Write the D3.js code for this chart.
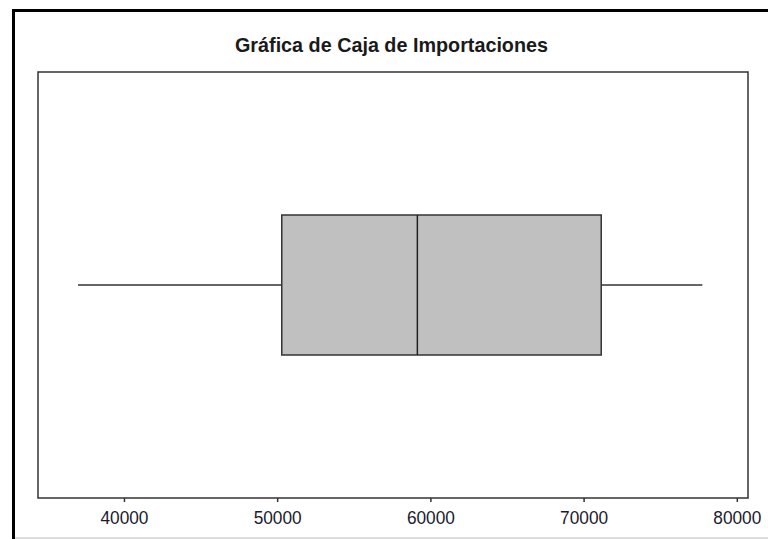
<!DOCTYPE html>
<html><head><meta charset="utf-8">
<script src="https://cdn.jsdelivr.net/npm/d3@7"></script>
<style>body{margin:0;background:#fff}svg{display:block}</style>
</head><body>
<svg id="c" width="768" height="539"></svg>
<script>
const title = "Gráfica de Caja de Importaciones";
const statNames = ["min", "q1", "median", "q3", "max"];
const statValues = [37000, 50300, 59150, 71150, 77750];
const tickValues = [40000, 50000, 60000, 70000, 80000];
const domainX = [34390, 80730];

const svg = d3.select("#c");
const plot = {left: 38, top: 72, right: 748, bottom: 498};
const x = d3.scaleLinear().domain(domainX).range([plot.left, plot.right]);
const s = {}; statNames.forEach((n, i) => s[n] = statValues[i]);
const cy = (plot.top + plot.bottom) / 2;
const boxH = 140;
const font = "Liberation Sans, Arial, sans-serif";

// outer frame
svg.append("line").attr("x1", 13.5).attr("x2", 13.5).attr("y1", 9).attr("y2", 539).attr("stroke", "#000").attr("stroke-width", 3);
svg.append("line").attr("x1", 12).attr("x2", 768).attr("y1", 10.5).attr("y2", 10.5).attr("stroke", "#000").attr("stroke-width", 3);
svg.append("line").attr("x1", 15).attr("x2", 768).attr("y1", 538).attr("y2", 538).attr("stroke", "#bbb").attr("stroke-width", 1);

// title
svg.append("text").attr("x", 235).attr("y", 52)
  .attr("font-family", font).attr("font-weight", "bold").attr("font-size", 21)
  .attr("textLength", 313).attr("lengthAdjust", "spacingAndGlyphs")
  .attr("fill", "#1a1a1a").text(title);

// plot frame
svg.append("rect").attr("x", plot.left).attr("y", plot.top)
  .attr("width", plot.right - plot.left).attr("height", plot.bottom - plot.top)
  .attr("fill", "none").attr("stroke", "#333").attr("stroke-width", 1.5);

// whiskers
svg.append("line").attr("x1", x(s.min)).attr("x2", x(s.q1)).attr("y1", cy).attr("y2", cy).attr("stroke", "#333").attr("stroke-width", 1.5);
svg.append("line").attr("x1", x(s.q3)).attr("x2", x(s.max)).attr("y1", cy).attr("y2", cy).attr("stroke", "#333").attr("stroke-width", 1.5);

// box
svg.append("rect").attr("x", x(s.q1)).attr("y", cy - boxH / 2)
  .attr("width", x(s.q3) - x(s.q1)).attr("height", boxH)
  .attr("fill", "#c0c0c0").attr("stroke", "#333").attr("stroke-width", 1.5);
svg.append("line").attr("x1", x(s.median)).attr("x2", x(s.median)).attr("y1", cy - boxH / 2).attr("y2", cy + boxH / 2).attr("stroke", "#222").attr("stroke-width", 1.5);

// axis
const ax = svg.append("g").attr("transform", `translate(0,${plot.bottom})`)
  .call(d3.axisBottom(x).tickValues(tickValues).tickFormat(d3.format("d")).tickSize(4).tickSizeOuter(0));
ax.select(".domain").remove();
ax.selectAll(".tick line").attr("stroke", "#333").attr("stroke-width", 1.5);
ax.selectAll(".tick text").attr("font-family", font).attr("font-size", 19)
  .attr("fill", "#1a1a2e").attr("dy", null).attr("y", 26)
  .attr("textLength", 48).attr("lengthAdjust", "spacingAndGlyphs");
</script>
</body></html>
